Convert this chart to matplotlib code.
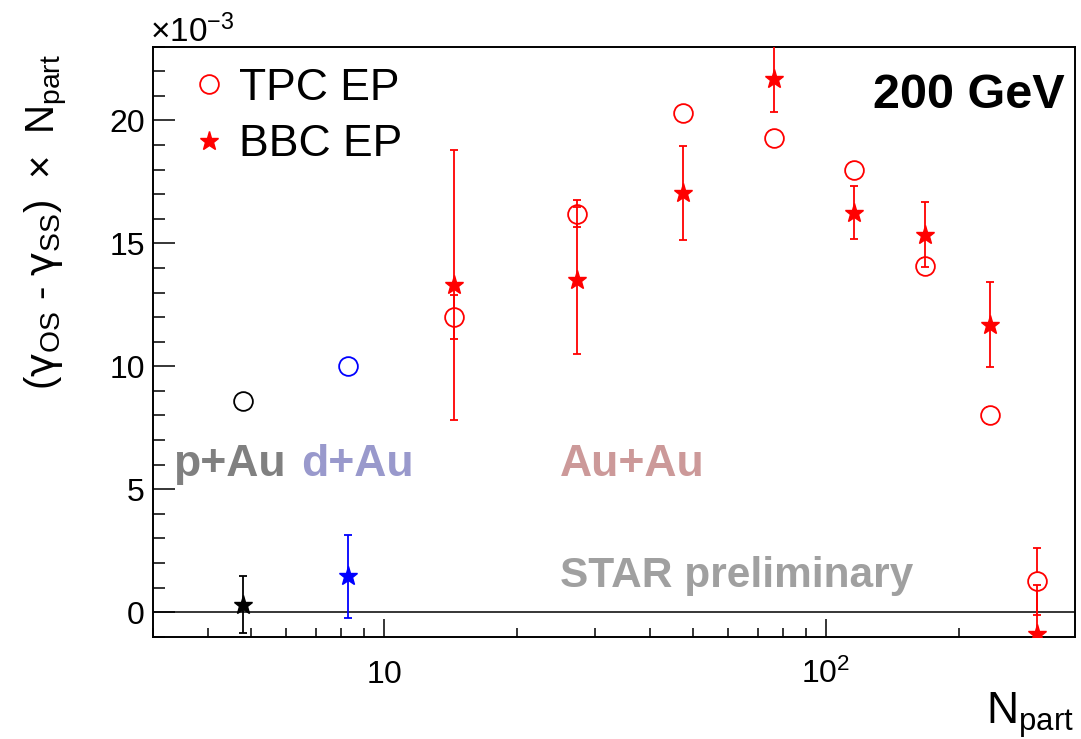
import matplotlib
matplotlib.use("Agg")
import matplotlib.pyplot as plt
import numpy as np
from matplotlib.ticker import FixedLocator, FuncFormatter, NullFormatter
from matplotlib.lines import Line2D

plt.rcParams['font.family'] = ['Liberation Sans', 'DejaVu Sans']
plt.rcParams['mathtext.fontset'] = 'custom'
plt.rcParams['mathtext.rm'] = 'Liberation Sans'
plt.rcParams['mathtext.it'] = 'DejaVu Sans'

# (gamma_OS - gamma_SS) x Npart, in units of 1e-3
npart_pau = [4.8]
tpc_pau = [8.6]
tpc_pau_err = [0.25]
bbc_pau = [0.3]
bbc_pau_err = [1.15]

npart_dau = [8.3]
tpc_dau = [10.0]
tpc_dau_err = [0.25]
bbc_dau = [1.45]
bbc_dau_err = [1.68]

npart_auau = [14.4, 27.3, 47.5, 76.4, 115.6, 167.8, 235.0, 300.0]
tpc_auau = [12.0, 16.2, 20.3, 19.3, 18.0, 14.1, 8.0, 1.25]
tpc_auau_err = [0.9, 0.55, 0.3, 0.3, 0.3, 0.3, 0.35, 1.35]
bbc_auau = [13.3, 13.5, 17.05, 21.7, 16.25, 15.35, 11.7, -0.9]
bbc_auau_err = [5.5, 3.0, 1.9, 1.35, 1.07, 1.33, 1.72, 2.0]

fig = plt.figure(figsize=(10.81, 7.39), dpi=100)
ax = fig.add_axes([0.1415, 0.1384, 0.8530, 0.7984])

def draw_tpc(x, y, yerr, color):
    # bars first, then the open circle on top so the bar stops at the marker
    ax.errorbar(x, y, yerr=yerr, fmt='none', ecolor=color, elinewidth=1.3,
                capsize=3, capthick=1.3, zorder=2.5)
    ax.plot(x, y, ls='none', marker='o', ms=13.5, mfc='white', mec=color,
            mew=1.3, zorder=3)

def draw_bbc(x, y, yerr, color):
    ax.errorbar(x, y, yerr=yerr, fmt='*', color=color, ms=14, mfc=color,
                mec=color, elinewidth=1.3, capsize=3, capthick=1.3, zorder=4)

draw_tpc(npart_pau, tpc_pau, tpc_pau_err, 'black')
draw_bbc(npart_pau, bbc_pau, bbc_pau_err, 'black')
draw_tpc(npart_dau, tpc_dau, tpc_dau_err, 'blue')
draw_bbc(npart_dau, bbc_dau, bbc_dau_err, 'blue')
draw_tpc(npart_auau, tpc_auau, tpc_auau_err, 'red')
draw_bbc(npart_auau, bbc_auau, bbc_auau_err, 'red')

ax.axhline(0, color='black', lw=1.1, zorder=2)

ax.set_xscale('log')
ax.set_xlim(3.0, 366)
ax.set_ylim(-1.0, 23.0)

ax.xaxis.set_major_locator(FixedLocator([10, 100]))
ax.xaxis.set_major_formatter(FuncFormatter(
    lambda v, p: r'$\mathregular{10}$' if v < 50 else r'$\mathregular{10^{2}}$'))
ax.xaxis.set_minor_locator(FixedLocator(
    [3, 4, 5, 6, 7, 8, 9, 20, 30, 40, 50, 60, 70, 80, 90, 200, 300]))
ax.xaxis.set_minor_formatter(NullFormatter())
ax.set_yticks([0, 5, 10, 15, 20])
ax.set_yticks(np.arange(-1, 24, 1), minor=True)

ax.tick_params(axis='both', which='both', direction='in', width=1.1,
               labelsize=23, top=False, right=False)
ax.tick_params(axis='y', which='major', length=16, pad=6)
ax.tick_params(axis='y', which='minor', length=8.5)
ax.tick_params(axis='x', which='major', length=13, pad=33)
ax.tick_params(axis='x', which='minor', length=6.5)
for lbl in ax.xaxis.get_majorticklabels():
    lbl.set_verticalalignment('baseline')
for s in ax.spines.values():
    s.set_linewidth(1.4)

# axis titles
fig.text(0.994, 0.021, r'$\mathregular{N_{part}}$', fontsize=32,
         ha='right', va='baseline')
fig.text(0.043, 0.70,
         r'$(\gamma_{\mathrm{OS}}$ - $\gamma_{\mathrm{SS}})\ \times\ \mathrm{N}_{\mathrm{part}}$',
         fontsize=29, rotation=90, ha='center', va='center')
fig.text(0.139, 0.943, r'$\mathregular{\times 10^{-3}}$', fontsize=24,
         ha='left', va='baseline')

# legend
handles = [
    Line2D([], [], ls='none', marker='o', ms=13.5, mfc='none', mec='red', mew=1.3),
    Line2D([], [], ls='none', marker='*', ms=14, color='red'),
]
ax.legend(handles, ['TPC EP', 'BBC EP'], loc='upper left',
          bbox_to_anchor=(0.0026, 1.017), frameon=False, fontsize=32,
          handlelength=1.0, handletextpad=0.18, labelspacing=0.35,
          borderaxespad=0.3)

# annotations
ax.text(0.989, 0.8956, '200 GeV', transform=ax.transAxes, fontsize=35,
        fontweight='bold', ha='right', va='baseline')
ax.text(0.0217, 0.272, 'p+Au', transform=ax.transAxes, fontsize=32,
        fontweight='bold', color='#808080', ha='left', va='baseline')
ax.text(0.161, 0.272, 'd+Au', transform=ax.transAxes, fontsize=32,
        fontweight='bold', color='#9999cc', ha='left', va='baseline')
ax.text(0.441, 0.272, 'Au+Au', transform=ax.transAxes, fontsize=32,
        fontweight='bold', color='#cc9999', ha='left', va='baseline')
ax.text(0.441, 0.0850, 'STAR preliminary', transform=ax.transAxes,
        fontsize=30.5, fontweight='bold', color='#a0a0a0', ha='left',
        va='baseline')

fig.savefig('out.png', dpi=100)
